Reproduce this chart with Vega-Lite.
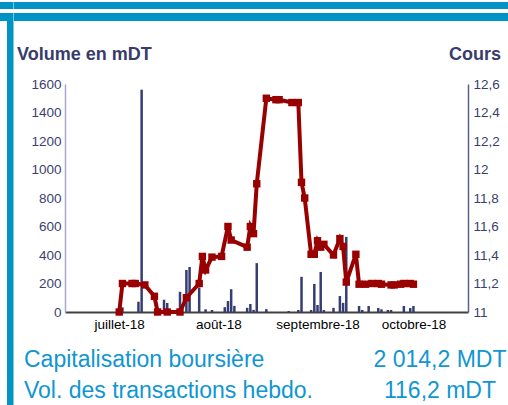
{
  "$schema": "https://vega.github.io/schema/vega-lite/v6.json",
  "padding": {"left": 0, "top": 2, "right": 0, "bottom": 0},
  "background": "white",
  "config": {"view": {"stroke": null}, "font": "Liberation Sans"},
  "columns": 5,
  "spacing": 0,
  "bounds": "flush",
  "align": "each",
  "datasets": {
    "volume": [
      {"date": "2018-07-02", "volume": 33},
      {"date": "2018-07-07", "volume": 72},
      {"date": "2018-07-08", "volume": 1560},
      {"date": "2018-07-15", "volume": 86},
      {"date": "2018-07-16", "volume": 63},
      {"date": "2018-07-20", "volume": 142},
      {"date": "2018-07-22", "volume": 295},
      {"date": "2018-07-23", "volume": 316},
      {"date": "2018-07-26", "volume": 172},
      {"date": "2018-07-28", "volume": 19},
      {"date": "2018-07-30", "volume": 14},
      {"date": "2018-08-03", "volume": 34},
      {"date": "2018-08-04", "volume": 77},
      {"date": "2018-08-05", "volume": 160},
      {"date": "2018-08-06", "volume": 43},
      {"date": "2018-08-10", "volume": 29},
      {"date": "2018-08-11", "volume": 56},
      {"date": "2018-08-12", "volume": 15},
      {"date": "2018-08-13", "volume": 343},
      {"date": "2018-08-16", "volume": 20},
      {"date": "2018-08-23", "volume": 7},
      {"date": "2018-08-26", "volume": 14},
      {"date": "2018-08-27", "volume": 247},
      {"date": "2018-08-30", "volume": 14},
      {"date": "2018-08-31", "volume": 197},
      {"date": "2018-09-01", "volume": 49},
      {"date": "2018-09-02", "volume": 281},
      {"date": "2018-09-03", "volume": 14},
      {"date": "2018-09-06", "volume": 29},
      {"date": "2018-09-08", "volume": 112},
      {"date": "2018-09-09", "volume": 64},
      {"date": "2018-09-10", "volume": 527},
      {"date": "2018-09-14", "volume": 42},
      {"date": "2018-09-15", "volume": 14},
      {"date": "2018-09-17", "volume": 42},
      {"date": "2018-09-20", "volume": 28},
      {"date": "2018-09-21", "volume": 19},
      {"date": "2018-09-23", "volume": 14},
      {"date": "2018-09-24", "volume": 14},
      {"date": "2018-09-28", "volume": 42},
      {"date": "2018-09-30", "volume": 28},
      {"date": "2018-10-01", "volume": 42}
    ],
    "cours": [
      {"date": "2018-07-01", "cours": 11.0},
      {"date": "2018-07-02", "cours": 11.2},
      {"date": "2018-07-05", "cours": 11.2},
      {"date": "2018-07-06", "cours": 11.2},
      {"date": "2018-07-09", "cours": 11.19},
      {"date": "2018-07-12", "cours": 11.11},
      {"date": "2018-07-13", "cours": 11.0},
      {"date": "2018-07-16", "cours": 11.0},
      {"date": "2018-07-20", "cours": 11.0},
      {"date": "2018-07-22", "cours": 11.1},
      {"date": "2018-07-26", "cours": 11.2},
      {"date": "2018-07-27", "cours": 11.39},
      {"date": "2018-07-28", "cours": 11.295},
      {"date": "2018-07-30", "cours": 11.385},
      {"date": "2018-08-02", "cours": 11.39},
      {"date": "2018-08-04", "cours": 11.6},
      {"date": "2018-08-05", "cours": 11.505},
      {"date": "2018-08-10", "cours": 11.455},
      {"date": "2018-08-11", "cours": 11.6},
      {"date": "2018-08-12", "cours": 11.55},
      {"date": "2018-08-13", "cours": 11.9},
      {"date": "2018-08-16", "cours": 12.5},
      {"date": "2018-08-19", "cours": 12.49},
      {"date": "2018-08-20", "cours": 12.49},
      {"date": "2018-08-24", "cours": 12.47},
      {"date": "2018-08-26", "cours": 12.47},
      {"date": "2018-08-27", "cours": 11.91},
      {"date": "2018-08-28", "cours": 11.8},
      {"date": "2018-08-30", "cours": 11.405},
      {"date": "2018-08-31", "cours": 11.405},
      {"date": "2018-09-01", "cours": 11.5},
      {"date": "2018-09-02", "cours": 11.455},
      {"date": "2018-09-03", "cours": 11.475},
      {"date": "2018-09-06", "cours": 11.4},
      {"date": "2018-09-08", "cours": 11.515},
      {"date": "2018-09-09", "cours": 11.46},
      {"date": "2018-09-10", "cours": 11.21},
      {"date": "2018-09-13", "cours": 11.405},
      {"date": "2018-09-14", "cours": 11.195},
      {"date": "2018-09-16", "cours": 11.195},
      {"date": "2018-09-18", "cours": 11.2},
      {"date": "2018-09-20", "cours": 11.2},
      {"date": "2018-09-21", "cours": 11.195},
      {"date": "2018-09-24", "cours": 11.19},
      {"date": "2018-09-25", "cours": 11.19},
      {"date": "2018-09-27", "cours": 11.195},
      {"date": "2018-09-28", "cours": 11.2},
      {"date": "2018-09-30", "cours": 11.2},
      {"date": "2018-10-01", "cours": 11.195}
    ]
  },
  "concat": [
    {"width": 7, "height": 7, "data": {"values": [{}]}, "mark": {"type": "rect", "color": "#0093c6"}},
    {"width": 6.5, "height": 7, "data": {"values": [{}]}, "mark": {"type": "rect", "color": "#0093c6"}},
    {"width": 51, "height": 7, "data": {"values": [{}]}, "mark": {"type": "rect", "color": "#0093c6"}},
    {"width": 403, "height": 7, "data": {"values": [{}]}, "mark": {"type": "rect", "color": "#0093c6"}},
    {"width": 40.5, "height": 7, "data": {"values": [{}]}, "mark": {"type": "rect", "color": "#0093c6"}},

    {"width": 7, "height": 4, "data": {"values": []}, "mark": "rect"},
    {"width": 6.5, "height": 4, "data": {"values": []}, "mark": "rect"},
    {"width": 51, "height": 4, "data": {"values": []}, "mark": "rect"},
    {"width": 403, "height": 4, "data": {"values": []}, "mark": "rect"},
    {"width": 40.5, "height": 4, "data": {"values": []}, "mark": "rect"},

    {"width": 7, "height": 8, "data": {"values": [{}]}, "mark": {"type": "rect", "color": "#0093c6"}},
    {"width": 6.5, "height": 8, "data": {"values": [{}]}, "mark": {"type": "rect", "color": "#0093c6"}},
    {"width": 51, "height": 8, "data": {"values": [{}]}, "mark": {"type": "rect", "color": "#0093c6"}},
    {"width": 403, "height": 8, "data": {"values": [{}]}, "mark": {"type": "rect", "color": "#0093c6"}},
    {"width": 40.5, "height": 8, "data": {"values": [{}]}, "mark": {"type": "rect", "color": "#0093c6"}},

    {"width": 7, "height": 63, "data": {"values": []}, "mark": "rect"},
    {"width": 6.5, "height": 63, "data": {"values": [{}]}, "mark": {"type": "rect", "color": "#0093c6"}},
    {"width": 51, "height": 63, "data": {"values": []}, "mark": "rect"},
    {"width": 403, "height": 63, "data": {"values": []}, "mark": "rect"},
    {"width": 40.5, "height": 63, "data": {"values": []}, "mark": "rect"},

    {"width": 7, "height": 321, "data": {"values": []}, "mark": "rect"},
    {"width": 6.5, "height": 321, "data": {"values": [{}]}, "mark": {"type": "rect", "color": "#0093c6"}},
    {"width": 51, "height": 321, "data": {"values": []}, "mark": "rect"},
    {
      "width": 403,
      "height": 228,
      "layer": [
        {
          "data": {"name": "volume"},
          "mark": {"type": "bar", "size": 2.5, "color": "#363d73"},
          "encoding": {
            "x": {
              "field": "date",
              "type": "temporal",
              "scale": {
                "type": "utc",
                "nice": false,
                "domain": [
                  {"year": 2018, "month": 6, "date": 15, "hours": 14, "minutes": 24, "utc": true},
                  {"year": 2018, "month": 10, "date": 16, "hours": 12, "utc": true}
                ]
              },
              "axis": {
                "orient": "bottom",
                "values": [
                  {"year": 2018, "month": 7, "date": 1, "utc": true},
                  {"year": 2018, "month": 8, "date": 1, "utc": true},
                  {"year": 2018, "month": 9, "date": 1, "utc": true},
                  {"year": 2018, "month": 10, "date": 1, "utc": true}
                ],
                "labelExpr": "['janvier','février','mars','avril','mai','juin','juillet','août','septembre','octobre','novembre','décembre'][utcmonth(datum.value)] + '-' + utcFormat(datum.value, '%y')",
                "labelFlush": false,
                "labelOverlap": false,
                "labelColor": "#000000",
                "labelFontSize": 13.5,
                "labelPadding": 5,
                "ticks": false,
                "tickSize": 0,
                "grid": false,
                "domainColor": "#404040",
                "domainWidth": 2,
                "title": ["Capitalisation boursière", "Vol. des transactions hebdo."],
                "titleAlign": "left",
                "titleAnchor": "start",
                "titleBaseline": "alphabetic",
                "titleX": -41.5,
                "titleY": 54,
                "titleLineHeight": 31,
                "titleFontSize": 23,
                "titleFontWeight": "normal",
                "titleColor": "#1096d2"
              }
            },
            "y": {
              "field": "volume",
              "type": "quantitative",
              "scale": {"domain": [0, 1600], "nice": false},
              "axis": {
                "orient": "left",
                "values": [0, 200, 400, 600, 800, 1000, 1200, 1400, 1600],
                "format": "d",
                "labelColor": "#3b3f6e",
                "labelFontSize": 13.5,
                "labelPadding": 4,
                "ticks": false,
                "tickSize": 0,
                "grid": false,
                "domainColor": "#a7a7d0",
                "domainWidth": 1.5,
                "title": "Volume en mDT",
                "titleAngle": 0,
                "titleAlign": "left",
                "titleBaseline": "alphabetic",
                "titleX": -48.5,
                "titleY": -25,
                "titleFontSize": 18,
                "titleFontWeight": "bold",
                "titleColor": "#383c6b"
              }
            }
          }
        },
        {
          "data": {"name": "cours"},
          "mark": {
            "type": "line",
            "color": "#990000",
            "strokeWidth": 4,
            "point": {"shape": "square", "size": 55, "filled": true, "color": "#990000"}
          },
          "encoding": {
            "x": {
              "field": "date",
              "type": "temporal",
              "scale": {
                "type": "utc",
                "nice": false,
                "domain": [
                  {"year": 2018, "month": 6, "date": 15, "hours": 14, "minutes": 24, "utc": true},
                  {"year": 2018, "month": 10, "date": 16, "hours": 12, "utc": true}
                ]
              },
              "axis": {
                "orient": "top",
                "labels": false,
                "ticks": false,
                "domain": false,
                "grid": false,
                "title": ["2 014,2 MDT", "116,2 mDT"],
                "titleAlign": "center",
                "titleBaseline": "alphabetic",
                "titleX": 374.5,
                "titleY": 282,
                "titleLineHeight": 31,
                "titleFontSize": 23,
                "titleFontWeight": "normal",
                "titleColor": "#1096d2"
              }
            },
            "y": {
              "field": "cours",
              "type": "quantitative",
              "scale": {"domain": [11, 12.6], "nice": false, "zero": false},
              "axis": {
                "orient": "right",
                "values": [11, 11.2, 11.4, 11.6, 11.8, 12, 12.2, 12.4, 12.6],
                "labelExpr": "replace(format(datum.value, '.1~f'), '.', ',')",
                "labelColor": "#3b3f6e",
                "labelFontSize": 13.5,
                "labelPadding": 5,
                "ticks": false,
                "tickSize": 0,
                "grid": false,
                "domainColor": "#5b5f8c",
                "domainWidth": 1.5,
                "title": "Cours",
                "titleAngle": 0,
                "titleAlign": "right",
                "titleBaseline": "alphabetic",
                "titleX": 32.5,
                "titleY": -25,
                "titleFontSize": 18,
                "titleFontWeight": "bold",
                "titleColor": "#383c6b"
              }
            }
          }
        }
      ],
      "resolve": {"scale": {"y": "independent"}, "axis": {"x": "independent"}}
    },
    {"width": 40.5, "height": 321, "data": {"values": []}, "mark": "rect"}
  ]
}
